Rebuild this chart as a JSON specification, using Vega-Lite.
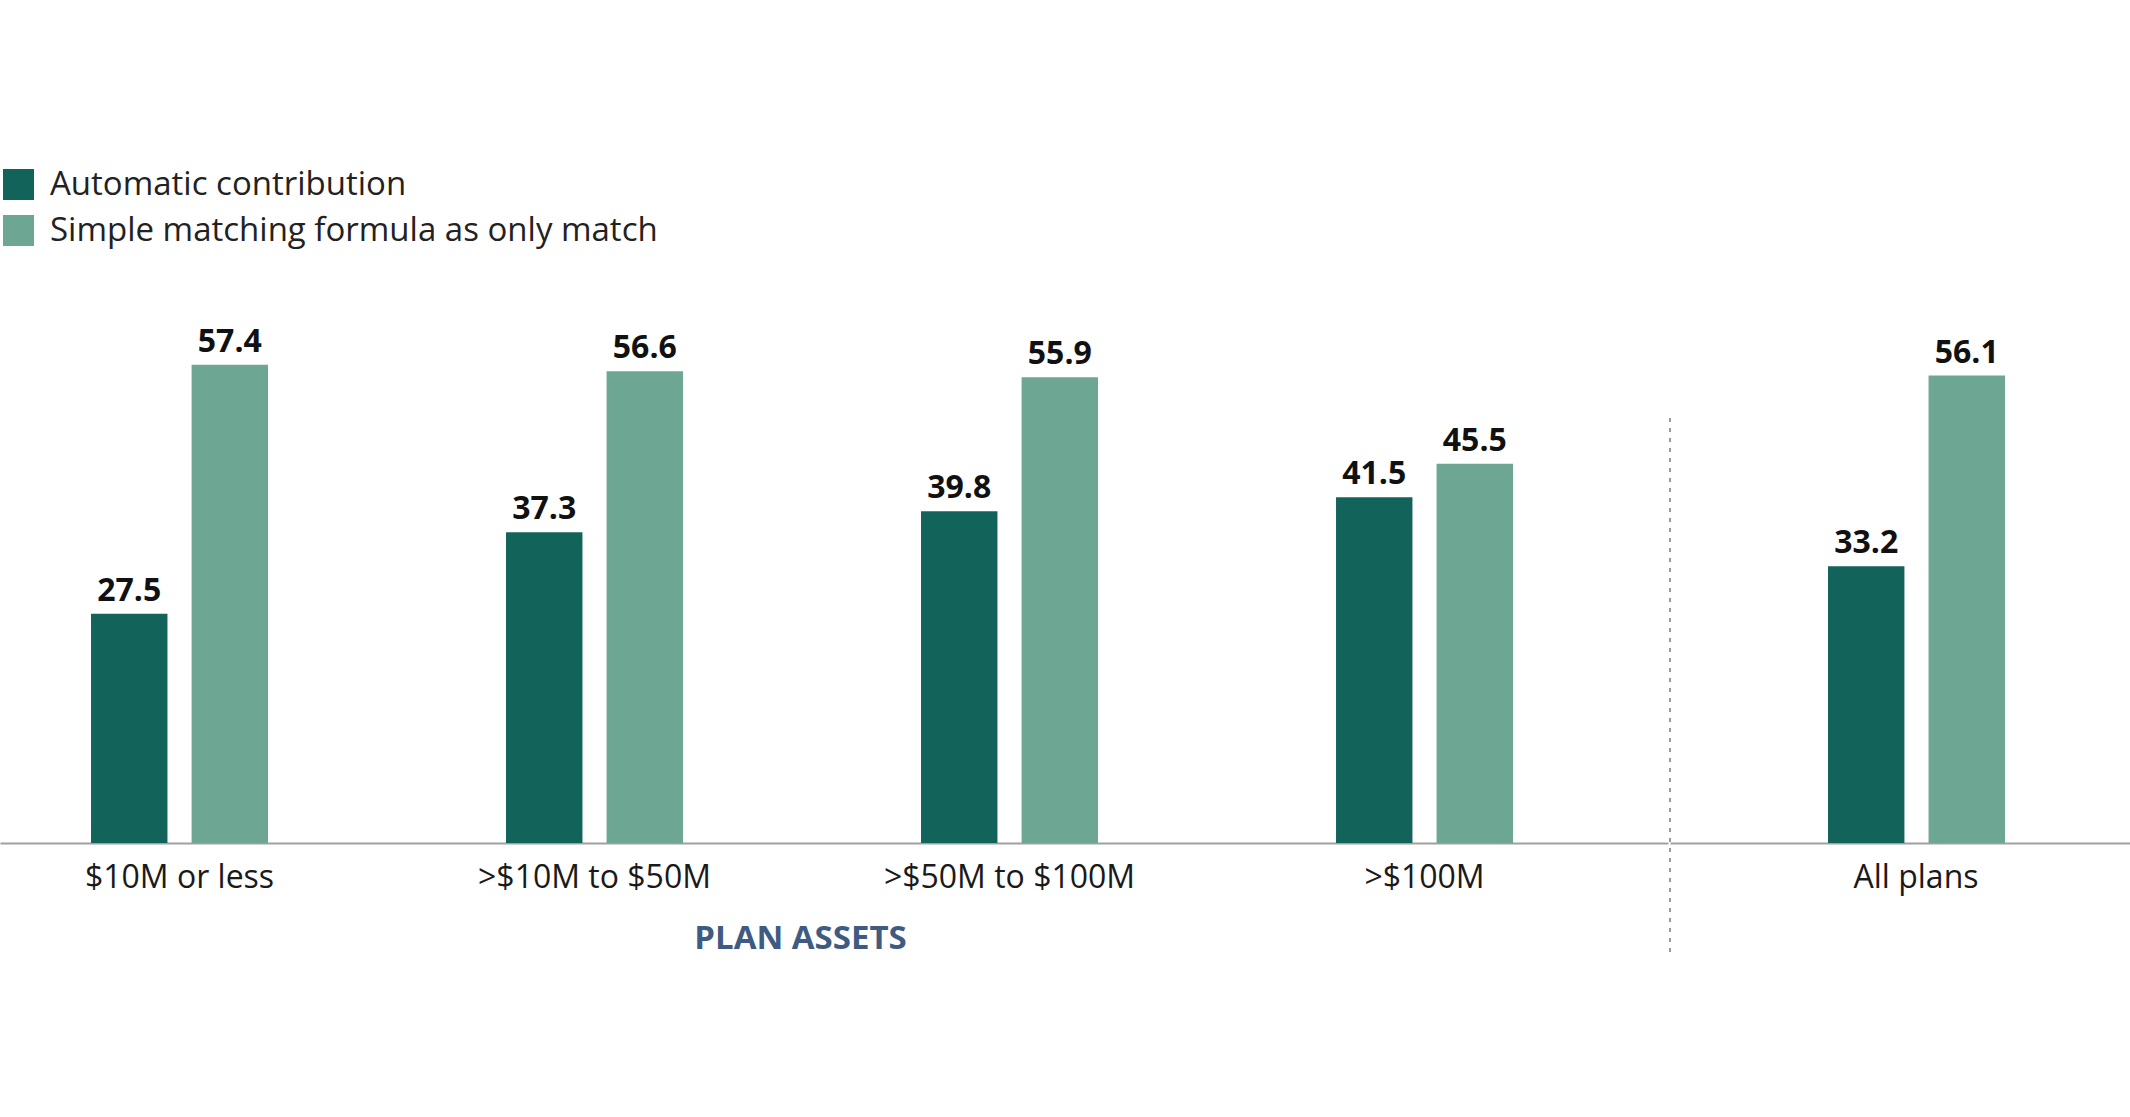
{
  "$schema": "https://vega.github.io/schema/vega-lite/v6.json",
  "background": "white",
  "padding": {"left": 0, "top": 168, "right": 0, "bottom": 167},
  "data": {
    "values": [
      {"group": "$10M or less", "series": "Automatic contribution", "value": 27.5},
      {"group": "$10M or less", "series": "Simple matching formula as only match", "value": 57.4},
      {"group": ">$10M to $50M", "series": "Automatic contribution", "value": 37.3},
      {"group": ">$10M to $50M", "series": "Simple matching formula as only match", "value": 56.6},
      {"group": ">$50M to $100M", "series": "Automatic contribution", "value": 39.8},
      {"group": ">$50M to $100M", "series": "Simple matching formula as only match", "value": 55.9},
      {"group": ">$100M", "series": "Automatic contribution", "value": 41.5},
      {"group": ">$100M", "series": "Simple matching formula as only match", "value": 45.5},
      {"group": "All plans", "series": "Automatic contribution", "value": 33.2},
      {"group": "All plans", "series": "Simple matching formula as only match", "value": 56.1}
    ]
  },
  "spacing": 0,
  "resolve": {"scale": {"color": "shared"}},
  "hconcat": [
    {
      "width": 1668,
      "height": 500,
      "transform": [{"filter": "datum.group != 'All plans'"}],
      "encoding": {
        "x": {
          "field": "group",
          "type": "nominal",
          "sort": ["$10M or less", ">$10M to $50M", ">$50M to $100M", ">$100M"],
          "scale": {"paddingInner": 0.5735, "paddingOuter": 0.2964, "align": 0.37},
          "axis": {"title": "PLAN ASSETS", "titleX": 800, "titlePadding": 29}
        },
        "xOffset": {
          "field": "series",
          "sort": ["Automatic contribution", "Simple matching formula as only match"],
          "scale": {"paddingInner": 0.24, "paddingOuter": 0}
        },
        "y": {"field": "value", "type": "quantitative", "scale": {"domain": [0, 60]}, "axis": null}
      },
      "layer": [
        {
          "mark": "bar",
          "encoding": {
            "color": {
              "field": "series",
              "type": "nominal",
              "sort": ["Automatic contribution", "Simple matching formula as only match"],
              "scale": {"domain": ["Automatic contribution", "Simple matching formula as only match"], "range": ["#12645a", "#6da793"]},
              "legend": {"title": null}
            }
          }
        },
        {
          "mark": {"type": "text", "dy": -13, "baseline": "alphabetic", "font": "Open Sans", "fontWeight": "bold", "fontSize": 32, "color": "#111111"},
          "encoding": {"text": {"field": "value", "type": "quantitative", "format": ".1f"}}
        }
      ]
    },
    {
      "width": 462,
      "height": 500,
      "transform": [{"filter": "datum.group == 'All plans'"}],
      "encoding": {
        "x": {
          "field": "group",
          "type": "nominal",
          "scale": {"paddingInner": 0, "paddingOuter": 0.8125, "align": 0.5524},
          "axis": {"title": null}
        },
        "y": {"field": "value", "type": "quantitative", "scale": {"domain": [0, 60]}, "axis": null}
      },
      "layer": [
        {
          "mark": "bar",
          "encoding": {
            "xOffset": {
              "field": "series",
              "sort": ["Automatic contribution", "Simple matching formula as only match"],
              "scale": {"paddingInner": 0.24, "paddingOuter": 0}
            },
            "color": {
              "field": "series",
              "type": "nominal",
              "sort": ["Automatic contribution", "Simple matching formula as only match"],
              "legend": {"title": null}
            }
          }
        },
        {
          "mark": {"type": "text", "dy": -13, "baseline": "alphabetic", "font": "Open Sans", "fontWeight": "bold", "fontSize": 32, "color": "#111111"},
          "encoding": {
            "xOffset": {
              "field": "series",
              "sort": ["Automatic contribution", "Simple matching formula as only match"],
              "scale": {"paddingInner": 0.24, "paddingOuter": 0}
            },
            "text": {"field": "value", "type": "quantitative", "format": ".1f"}
          }
        },
        {
          "mark": {"type": "rule", "strokeDash": [4, 6], "color": "#9a9a9a", "strokeWidth": 2},
          "encoding": {
            "x": {"datum": "All plans", "type": "nominal", "bandPosition": -0.8977},
            "y": {"datum": 51, "type": "quantitative"},
            "y2": {"datum": -13.6}
          }
        }
      ]
    }
  ],
  "config": {
    "view": {"stroke": null},
    "font": "Open Sans",
    "axis": {
      "grid": false,
      "ticks": false,
      "tickSize": 0,
      "domainColor": "#a0a0a0",
      "domainWidth": 2,
      "labelAngle": 0,
      "labelFont": "Open Sans",
      "labelFontSize": 32,
      "labelColor": "#1a1a1a",
      "labelPadding": 19,
      "labelLimit": 600,
      "titleFont": "Open Sans",
      "titleFontSize": 33,
      "titleFontWeight": "bold",
      "titleColor": "#3f5b82"
    },
    "legend": {
      "orient": "none",
      "legendX": 2,
      "legendY": -175,
      "padding": 0,
      "symbolType": "square",
      "symbolSize": 961,
      "symbolStrokeWidth": 0,
      "symbolOpacity": 1,
      "labelFont": "Open Sans",
      "labelFontSize": 33,
      "labelColor": "#222222",
      "labelOffset": 15,
      "labelLimit": 800,
      "rowPadding": 12
    }
  }
}
